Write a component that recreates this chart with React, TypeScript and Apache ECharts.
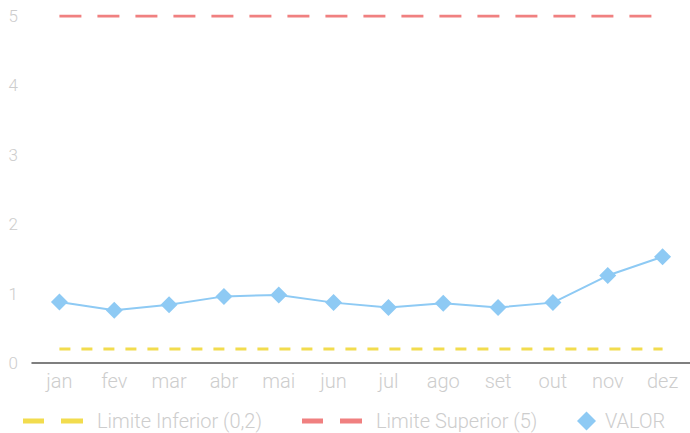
import React, { useEffect, useRef } from "react";
import * as echarts from "echarts";

const months = ["jan", "fev", "mar", "abr", "mai", "jun", "jul", "ago", "set", "out", "nov", "dez"];
const valor = [0.88, 0.76, 0.84, 0.96, 0.98, 0.87, 0.8, 0.86, 0.8, 0.87, 1.26, 1.53];
const limiteInferior = [0.2, 0.2, 0.2, 0.2, 0.2, 0.2, 0.2, 0.2, 0.2, 0.2, 0.2, 0.2];
const limiteSuperior = [5, 5, 5, 5, 5, 5, 5, 5, 5, 5, 5, 5];
const yTicks = [0, 1, 2, 3, 4, 5];

const TEXT = "#cdcdcd";
const FONT = "Roboto";
const YELLOW = "#f2dc4e";
const RED = "#f08080";
const BLUE = "#8ecaf4";

// two short bars, used as the legend icon of the dashed limit lines
const dashIcon = "path://M0,0H21V5H0Z M38,0H60V5H38Z";

const legendText = {
  color: TEXT,
  fontSize: 20,
  fontWeight: 300,
  fontFamily: FONT,
  padding: [0, 0, 0, 9],
};

export default function App() {
  const ref = useRef<HTMLDivElement>(null);

  useEffect(() => {
    if (!ref.current) return;
    const chart = echarts.init(ref.current, undefined, { renderer: "svg" });
    chart.setOption({
      animation: false,
      backgroundColor: "#ffffff",
      textStyle: { fontFamily: FONT },
      grid: { left: 32, right: -10, top: 16, bottom: 70, containLabel: false },
      xAxis: {
        type: "category",
        data: months,
        boundaryGap: true,
        axisLine: { show: true, lineStyle: { color: "#555555", width: 1.5 } },
        axisTick: { show: false },
        axisLabel: { color: TEXT, fontSize: 20, fontWeight: 300, margin: 8, fontFamily: FONT },
        splitLine: { show: false },
      },
      yAxis: {
        type: "value",
        min: yTicks[0],
        max: yTicks[yTicks.length - 1],
        interval: 1,
        axisLine: { show: false },
        axisTick: { show: false },
        splitLine: { show: false },
        axisLabel: { color: TEXT, fontSize: 17, fontWeight: 300, margin: 14, fontFamily: FONT },
      },
      legend: [
        {
          left: 18,
          bottom: -3,
          itemWidth: 60,
          itemHeight: 5,
          textStyle: legendText,
          data: [{ name: "Limite Inferior (0,2)", icon: dashIcon, itemStyle: { color: YELLOW } }],
        },
        {
          left: 297,
          bottom: -3,
          itemWidth: 60,
          itemHeight: 5,
          textStyle: legendText,
          data: [{ name: "Limite Superior (5)", icon: dashIcon, itemStyle: { color: RED } }],
        },
        {
          left: 572,
          bottom: -3,
          itemWidth: 19,
          itemHeight: 19,
          textStyle: { ...legendText, padding: [0, 0, 0, 4] },
          data: [{ name: "VALOR", icon: "diamond" }],
        },
      ],
      series: [
        {
          name: "Limite Inferior (0,2)",
          type: "line",
          data: limiteInferior,
          symbol: "none",
          lineStyle: { color: YELLOW, width: 3, type: [11, 11] },
          itemStyle: { color: YELLOW },
          z: 2,
        },
        {
          name: "Limite Superior (5)",
          type: "line",
          data: limiteSuperior,
          symbol: "none",
          lineStyle: { color: RED, width: 3, type: [22, 16] },
          itemStyle: { color: RED },
          z: 2,
        },
        {
          name: "VALOR",
          type: "line",
          data: valor,
          symbol: "diamond",
          symbolSize: 17,
          lineStyle: { color: BLUE, width: 2 },
          itemStyle: { color: BLUE },
          z: 3,
        },
      ],
    });
    return () => chart.dispose();
  }, []);

  return (
    <div
      ref={ref}
      style={{ position: "absolute", left: 0, top: 0, width: 690, height: 433 }}
    />
  );
}
